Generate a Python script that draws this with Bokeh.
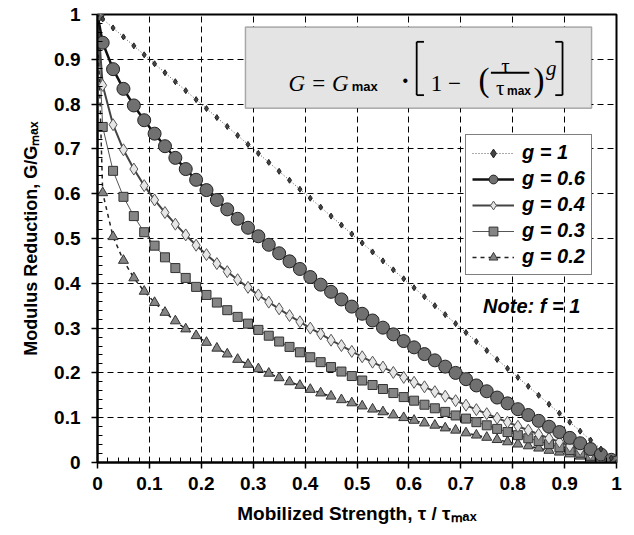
import math
from bokeh.plotting import figure
from bokeh.models import (ColumnDataSource, FixedTicker, CustomJSTickFormatter, Label,
                          Legend, LegendItem, BoxAnnotation)
from bokeh.embed import file_html
from bokeh.resources import INLINE

# ---------------- data ----------------
X = [0, 0.01, 0.03, 0.05, 0.07, 0.09, 0.11, 0.13, 0.15, 0.17, 0.19, 0.21, 0.23, 0.25,
     0.27, 0.29, 0.31, 0.33, 0.35, 0.37, 0.39, 0.41, 0.43, 0.45, 0.47, 0.49, 0.51, 0.53,
     0.55, 0.57, 0.59, 0.61, 0.63, 0.65, 0.67, 0.69, 0.71, 0.73, 0.75, 0.77, 0.79, 0.81,
     0.83, 0.85, 0.87, 0.89, 0.91, 0.93, 0.95, 0.97, 0.99, 1]

G_1 = [1, 0.99, 0.97, 0.95, 0.93, 0.91, 0.89, 0.87, 0.85, 0.83, 0.81, 0.79, 0.77, 0.75,
       0.73, 0.71, 0.69, 0.67, 0.65, 0.63, 0.61, 0.59, 0.57, 0.55, 0.53, 0.51, 0.49, 0.47,
       0.45, 0.43, 0.41, 0.39, 0.37, 0.35, 0.33, 0.31, 0.29, 0.27, 0.25, 0.23, 0.21, 0.19,
       0.17, 0.15, 0.13, 0.11, 0.09, 0.07, 0.05, 0.03, 0.01, 0]

G_06 = [1, 0.937, 0.878, 0.834, 0.797, 0.764, 0.734, 0.706, 0.680, 0.655, 0.631, 0.608,
        0.586, 0.565, 0.544, 0.524, 0.505, 0.486, 0.467, 0.449, 0.432, 0.414, 0.397, 0.381,
        0.364, 0.348, 0.332, 0.317, 0.301, 0.286, 0.271, 0.257, 0.242, 0.228, 0.214, 0.200,
        0.186, 0.172, 0.159, 0.145, 0.132, 0.119, 0.106, 0.093, 0.080, 0.068, 0.055, 0.043,
        0.030, 0.018, 0.006, 0]

G_04 = [1, 0.842, 0.754, 0.698, 0.655, 0.618, 0.586, 0.558, 0.532, 0.508, 0.485, 0.464,
        0.444, 0.426, 0.408, 0.391, 0.374, 0.358, 0.343, 0.328, 0.314, 0.300, 0.287, 0.273,
        0.261, 0.248, 0.236, 0.224, 0.213, 0.201, 0.190, 0.179, 0.169, 0.158, 0.148, 0.138,
        0.128, 0.118, 0.109, 0.099, 0.090, 0.081, 0.072, 0.063, 0.054, 0.046, 0.037, 0.029,
        0.020, 0.012, 0.004, 0]

G_03 = [1, 0.749, 0.651, 0.593, 0.550, 0.514, 0.484, 0.458, 0.434, 0.412, 0.392, 0.374,
        0.357, 0.340, 0.325, 0.310, 0.296, 0.283, 0.270, 0.258, 0.246, 0.235, 0.224, 0.213,
        0.203, 0.193, 0.183, 0.173, 0.164, 0.155, 0.146, 0.138, 0.129, 0.121, 0.113, 0.105,
        0.098, 0.090, 0.083, 0.075, 0.068, 0.061, 0.054, 0.048, 0.041, 0.034, 0.028, 0.022,
        0.015, 0.009, 0.003, 0]

G_02 = [1, 0.602, 0.504, 0.451, 0.412, 0.382, 0.357, 0.335, 0.316, 0.298, 0.283, 0.268,
        0.255, 0.242, 0.230, 0.219, 0.209, 0.199, 0.189, 0.180, 0.172, 0.163, 0.155, 0.148,
        0.140, 0.133, 0.126, 0.119, 0.113, 0.106, 0.100, 0.094, 0.088, 0.083, 0.077, 0.072,
        0.066, 0.061, 0.056, 0.051, 0.046, 0.041, 0.037, 0.032, 0.027, 0.023, 0.019, 0.014,
        0.010, 0.006, 0.002, 0]

SERIES_LABELS = ["g = 1", "g = 0.6", "g = 0.4", "g = 0.3", "g = 0.2"]

TICKS = [0, 0.1, 0.2, 0.3, 0.4, 0.5, 0.6, 0.7, 0.8, 0.9, 1]
MINOR = [0.02, 0.04, 0.06, 0.08, 0.12, 0.14, 0.16, 0.18, 0.22, 0.24, 0.26, 0.28,
         0.32, 0.34, 0.36, 0.38, 0.42, 0.44, 0.46, 0.48, 0.52, 0.54, 0.56, 0.58,
         0.62, 0.64, 0.66, 0.68, 0.72, 0.74, 0.76, 0.78, 0.82, 0.84, 0.86, 0.88,
         0.92, 0.94, 0.96, 0.98]

X_TITLE = "Mobilized Strength, \u03c4 / \u03c4\u2098\u2090\u2093"
Y_TITLE = "Modulus Reduction, G/G\u2098\u2090\u2093"

# ---------------- figure ----------------
p = figure(width=630, height=532, x_range=(0, 1), y_range=(0, 1),
           output_backend="svg", toolbar_location=None,
           min_border_left=97, min_border_right=14, min_border_top=14, min_border_bottom=70)
p.background_fill_color = "white"
p.border_fill_color = "white"
p.outline_line_color = "black"
p.outline_line_width = 2

fmt = CustomJSTickFormatter(code="return (Math.round(tick*10)/10).toString();")
for ax in (p.xaxis[0], p.yaxis[0]):
    ax.ticker = FixedTicker(ticks=TICKS, minor_ticks=MINOR)
    ax.formatter = fmt
    ax.axis_line_color = "black"
    ax.axis_line_width = 2
    ax.major_tick_line_color = "black"
    ax.major_tick_line_width = 1.5
    ax.major_tick_in = 0
    ax.major_tick_out = 6
    ax.minor_tick_line_color = "black"
    ax.minor_tick_line_width = 1
    ax.minor_tick_in = 5
    ax.minor_tick_out = 0
    ax.major_label_text_font = "Liberation Sans"
    ax.major_label_text_font_style = "bold"
    ax.major_label_text_font_size = "19px"
    ax.major_label_text_color = "black"
    ax.axis_label_text_font = "Liberation Sans"
    ax.axis_label_text_font_style = "bold"
    ax.axis_label_text_color = "black"
p.xaxis.axis_label_text_font_size = "19px"
p.yaxis.axis_label_text_font_size = "18px"
p.xaxis.major_label_standoff = 8
p.yaxis.major_label_standoff = 11
p.xaxis.axis_label = X_TITLE
p.yaxis.axis_label = Y_TITLE
p.xaxis.axis_label_standoff = 10
p.yaxis.axis_label_standoff = 10

for g in (p.xgrid[0], p.ygrid[0]):
    g.grid_line_color = "black"
    g.grid_line_dash = "6 4"
    g.grid_line_width = 1

# ---------------- series ----------------
styles = {
    "g = 0.2": dict(y=G_02, line=dict(line_color="#222222", line_width=1.5, line_dash="4 4"),
                    mk=dict(marker="triangle", size=10, fill_color="#858585", line_color="#333333")),
    "g = 0.3": dict(y=G_03, line=dict(line_color="#555555", line_width=1),
                    mk=dict(marker="square", size=9, fill_color="#858585", line_color="#333333")),
    "g = 0.4": dict(y=G_04, line=dict(line_color="#444444", line_width=2),
                    mk=dict(marker="diamond", size=12, fill_color="#e6e6e6", line_color="#555555")),
    "g = 0.6": dict(y=G_06, line=dict(line_color="#111111", line_width=2.5),
                    mk=dict(marker="circle", size=13, fill_color="#707070", line_color="#222222")),
    "g = 1": dict(y=G_1, line=dict(line_color="#555555", line_width=1, line_dash="1 2"),
                  mk=dict(marker="diamond", size=6, fill_color="#444444", line_color="#222222")),
}

renderers = {}
for name in ["g = 0.2", "g = 0.3", "g = 0.4", "g = 0.6", "g = 1"]:
    st = styles[name]
    src = ColumnDataSource(dict(x=X, y=st["y"]))
    lr = p.line("x", "y", source=src, **st["line"])
    sr = p.scatter("x", "y", source=src, **st["mk"])
    renderers[name] = [lr, sr]

legend = Legend(items=[LegendItem(label=n, renderers=renderers[n]) for n in SERIES_LABELS],
                location=(368, 187), orientation="vertical",
                border_line_color="black", border_line_width=1.5,
                background_fill_color="white", background_fill_alpha=1,
                label_text_font="Liberation Sans", label_text_font_style="bold italic",
                label_text_font_size="20px", label_text_color="black",
                glyph_width=42, glyph_height=22, label_height=22, spacing=3,
                padding=6, margin=0, label_standoff=8)
p.add_layout(legend)

# ---------------- formula box ----------------
box = BoxAnnotation(left=0.285, right=0.952, bottom=0.791, top=0.972,
                    fill_color="#e4e4e4", fill_alpha=1,
                    line_color="black", line_width=1.5, level="annotation")
p.add_layout(box)

def lab(x, y, text, font="Liberation Serif", style="normal", size="21px",
        align="left", baseline="alphabetic", angle=0):
    p.add_layout(Label(x=x, y=y, text=text, text_font=font, text_font_style=style,
                       text_font_size=size, text_align=align, text_baseline=baseline,
                       text_color="black", angle=angle))

lab(0.368, 0.846, "G = G", style="italic", size="23px")
lab(0.490, 0.839, "max", font="Liberation Sans", style="bold", size="13px")
lab(0.593, 0.853, "\u2022", font="Liberation Sans", size="16px", align="center")
lab(0.642, 0.846, "1 \u2212", size="23px")
lab(0.734, 0.853, "(", size="33px")
lab(0.786, 0.886, "\u03c4", size="21px", align="center")
lab(0.776, 0.837, "\u03c4", size="21px", align="center")
lab(0.789, 0.829, "max", font="Liberation Sans", style="bold", size="12px")
lab(0.840, 0.853, ")", size="33px")
lab(0.864, 0.880, "g", style="italic", size="21px")

# brackets and fraction bar
p.segment(x0=[0.615, 0.615, 0.615, 0.896, 0.896, 0.896, 0.758],
          y0=[0.939, 0.939, 0.820, 0.939, 0.939, 0.820, 0.870],
          x1=[0.615, 0.629, 0.629, 0.896, 0.882, 0.882, 0.832],
          y1=[0.820, 0.939, 0.820, 0.820, 0.939, 0.820, 0.870],
          line_color="black", line_width=1.8, level="overlay")

# note
lab(0.743, 0.349, "Note:  f = 1", font="Liberation Sans", style="bold italic", size="20px")

open("out.html", "w").write(file_html(p, INLINE))
